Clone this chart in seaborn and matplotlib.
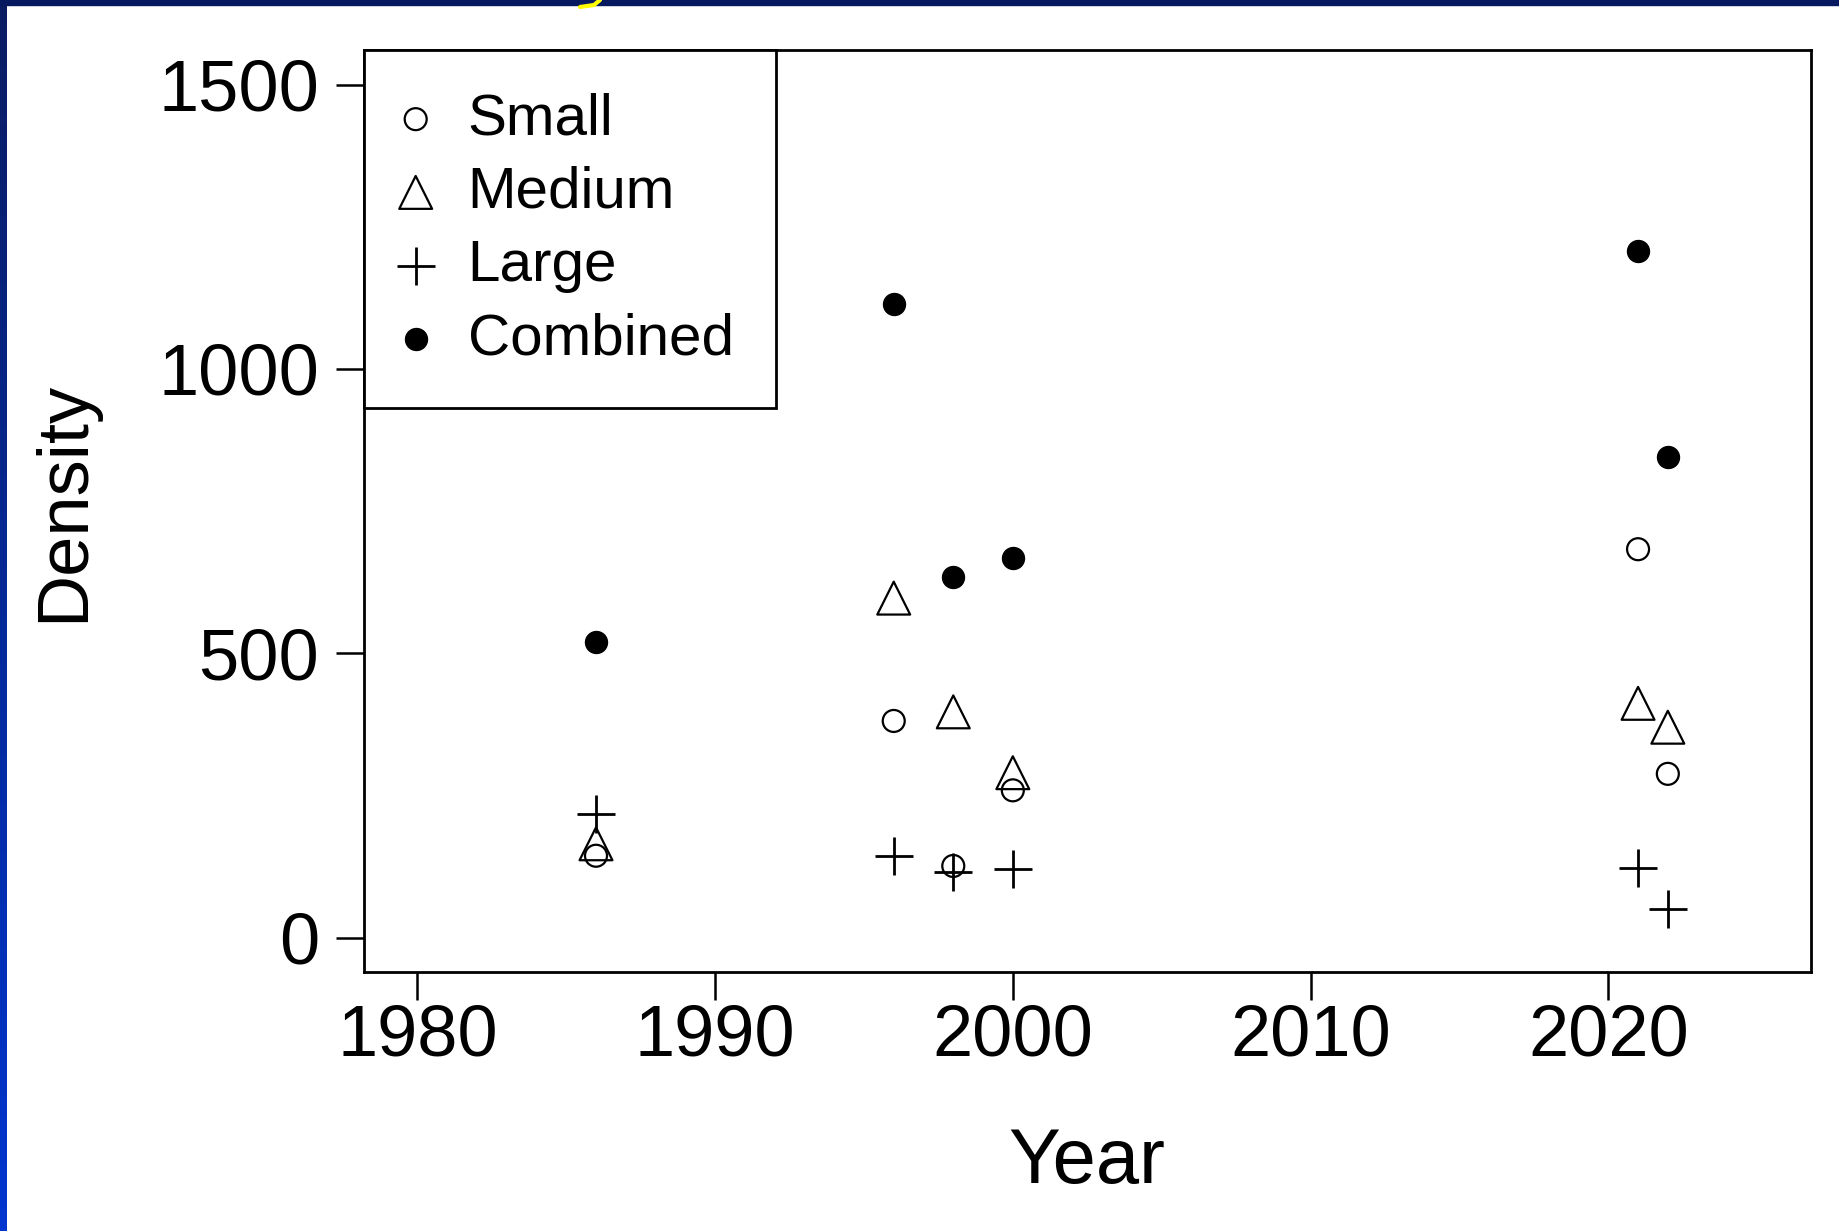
import matplotlib
matplotlib.use('Agg')
import matplotlib.pyplot as plt
from matplotlib.colors import LinearSegmentedColormap
from matplotlib.patches import Rectangle
from matplotlib.lines import Line2D
import seaborn as sns
import numpy as np

# values
years = [1986, 1996, 1998, 2000, 2021, 2022]
small = [144, 381, 126, 259, 683, 288]
medium = [165, 597, 397, 290, 412, 370]
large = [218, 144, 115, 121, 123, 51]
combined = [520, 1115, 634, 667, 1208, 846]

x_ticks = [1980, 1990, 2000, 2010, 2020]
y_ticks = [0, 500, 1000, 1500]

sns.set_style('white')
plt.rcParams['font.family'] = ['Liberation Sans', 'DejaVu Sans']

fig = plt.figure(figsize=(18.4, 12.31), dpi=100)
fig.patch.set_facecolor('white')

# slide frame: dark top strip and blue gradient on the left
fig.add_artist(Rectangle((0, 1 - 5 / 1231), 1, 5 / 1231, transform=fig.transFigure,
                         color='#06185e', zorder=10))
strip = fig.add_axes([0, 0, 7 / 1840, 1])
grad = np.linspace(0, 1, 256).reshape(-1, 1)
cmap = LinearSegmentedColormap.from_list('frame', ['#0a1c62', '#0036d0'])
strip.imshow(grad, aspect='auto', cmap=cmap)
strip.set_axis_off()
# little yellow stroke left over from the slide title above the crop
fig.add_artist(Line2D([600 / 1840, 594 / 1840, 580 / 1840],
                      [1.0, 1 - 5 / 1231, 1 - 7 / 1231],
                      transform=fig.transFigure, color='#ffff00', lw=3, zorder=11))

ax = fig.add_axes([0.1977, 0.2106, 0.7864, 0.7484])

sns.scatterplot(x=years, y=small, ax=ax, marker='o', s=250, facecolors='none',
                edgecolor='black', linewidth=1.6, label='Small')
sns.scatterplot(x=years, y=medium, ax=ax, marker='^', s=560, facecolors='none',
                edgecolor='black', linewidth=1.6, label='Medium')
sns.scatterplot(x=years, y=large, ax=ax, marker='+', s=780, color='black',
                linewidth=2, label='Large')
sns.scatterplot(x=years, y=combined, ax=ax, marker='o', s=250, color='black',
                edgecolor='black', linewidth=1, label='Combined')

# R-style 4% padding around the limits
ax.set_xlim(1980 - 1.8, 2025 + 1.8)
ax.set_ylim(-60, 1560)
ax.set_xticks(x_ticks)
ax.set_yticks(y_ticks)

for s in ax.spines.values():
    s.set_visible(True)
    s.set_color('black')
    s.set_linewidth(2)

ax.tick_params(axis='both', direction='out', length=20, width=1.8, color='black',
               labelsize=52, labelcolor='black', bottom=True, left=True)
ax.tick_params(axis='x', pad=3)
ax.tick_params(axis='y', pad=12)

ax.set_xlabel('Year', fontsize=56, color='black')
ax.set_ylabel('Density', fontsize=52, color='black')
ax.xaxis.label.set_va('center')
ax.yaxis.label.set_va('center')
ax.xaxis.set_label_coords(0.5, -0.207)
ax.yaxis.set_label_coords(-0.207, 0.51)

leg = ax.legend(loc='upper left', bbox_to_anchor=(0, 1), borderaxespad=0,
                fontsize=42, frameon=True, fancybox=False, framealpha=1,
                edgecolor='black', borderpad=0.72, labelspacing=0.33,
                handlelength=0.34, handletextpad=0.72, labelcolor='black')
leg.get_frame().set_linewidth(2)

plt.savefig('out.png', dpi=100)
